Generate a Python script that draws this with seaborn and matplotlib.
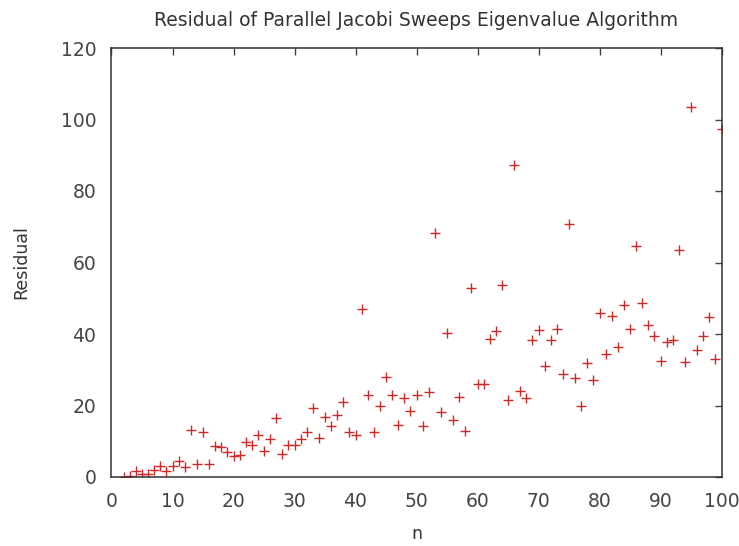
import numpy as np
import pandas as pd
import matplotlib
matplotlib.use("Agg")
import matplotlib.pyplot as plt
import seaborn as sns

n = list(range(2, 101))
residual = [
    0.0, 0.2, 1.8, 0.8, 0.9, 1.9, 3.0, 1.8, 3.0, 4.5,   # 2-11
    2.9, 13.1, 3.6, 12.6, 3.6, 8.6, 8.4, 7.1, 5.9, 6.2,  # 12-21
    9.8, 9.0, 11.8, 7.4, 10.5, 16.6, 6.3, 9.0, 9.0, 10.6,  # 22-31
    12.6, 19.3, 11.0, 16.7, 14.3, 17.4, 20.9, 12.5, 11.7, 47.1,  # 32-41
    22.9, 12.5, 19.9, 28.1, 22.9, 14.6, 22.0, 18.6, 22.9, 14.3,  # 42-51
    23.9, 68.3, 18.2, 40.4, 15.9, 22.3, 13.0, 52.8, 26.1, 26.1,  # 52-61
    38.7, 40.9, 53.8, 21.6, 87.3, 24.0, 22.0, 38.2, 41.1, 31.1,  # 62-71
    38.4, 41.5, 28.9, 70.7, 27.8, 19.9, 31.8, 27.2, 45.8, 34.5,  # 72-81
    45.0, 36.4, 48.2, 41.5, 64.6, 48.7, 42.4, 39.4, 32.4, 37.8,  # 82-91
    38.3, 63.5, 32.3, 103.5, 35.4, 39.4, 44.8, 33.1, 97.3,      # 92-100
]

df = pd.DataFrame({"n": n, "Residual": residual})

sns.set_style("white")
plt.rcParams["font.family"] = ["DejaVu Sans"]

fig = plt.figure(figsize=(7.39, 5.46), dpi=100)
ax = fig.add_axes([111.5 / 739, 1 - 477 / 546, (721.5 - 111.5) / 739, (477 - 48) / 546])

sns.scatterplot(data=df, x="n", y="Residual", marker="+", color="#d02828",
                s=48, linewidth=1.0, ax=ax, legend=False)

ax.set_xlim(0, 100)
ax.set_ylim(0, 120)
ax.set_xticks(np.arange(0, 101, 10))
ax.set_yticks(np.arange(0, 121, 20))
ax.tick_params(direction="in", length=5, width=1, top=True, right=True,
               labelsize=13.5, colors="#444444", pad=11)
for sp in ax.spines.values():
    sp.set_visible(True)
    sp.set_color("#333333")
    sp.set_linewidth(1.1)

ax.set_xlabel("n", fontsize=12.5, color="#333333", labelpad=10)
ax.set_ylabel("Residual", fontsize=12.5, color="#333333", labelpad=22)
ax.set_title("Residual of Parallel Jacobi Sweeps Eigenvalue Algorithm",
             fontsize=13.5, color="#333333", pad=16)

fig.savefig("out.png", dpi=100)
